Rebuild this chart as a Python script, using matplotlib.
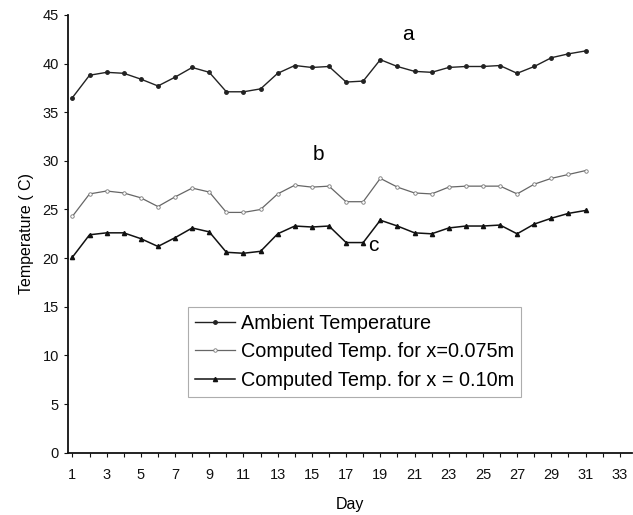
import numpy as np
import matplotlib.pyplot as plt

plt.rcParams['font.family'] = ['Liberation Sans', 'DejaVu Sans']

days = list(range(1, 32))

# a: ambient temperature
ambient = [36.5, 38.8, 39.1, 39.0, 38.4, 37.7, 38.6, 39.6, 39.1, 37.1, 37.1,
           37.4, 39.0, 39.8, 39.6, 39.7, 38.1, 38.2, 40.4, 39.7, 39.2, 39.1,
           39.6, 39.7, 39.7, 39.8, 39.0, 39.7, 40.6, 41.0, 41.3]

# b: computed temp for x = 0.075 m
temp_075 = [24.3, 26.6, 26.9, 26.7, 26.2, 25.3, 26.3, 27.2, 26.8, 24.7, 24.7,
            25.0, 26.6, 27.5, 27.3, 27.4, 25.8, 25.8, 28.2, 27.3, 26.7, 26.6,
            27.3, 27.4, 27.4, 27.4, 26.6, 27.6, 28.2, 28.6, 29.0]

# c: computed temp for x = 0.10 m
temp_010 = [20.1, 22.4, 22.6, 22.6, 22.0, 21.2, 22.1, 23.1, 22.7, 20.6, 20.5,
            20.7, 22.5, 23.3, 23.2, 23.3, 21.6, 21.6, 23.9, 23.3, 22.6, 22.5,
            23.1, 23.3, 23.3, 23.4, 22.5, 23.5, 24.1, 24.6, 24.9]

fig = plt.figure(figsize=(6.33, 5.15), dpi=100)
ax = fig.add_axes([0.1074, 0.121, 0.8906, 0.850])

ax.plot(days, ambient, color='#222222', lw=1.0, marker='o', ms=2.5,
        label='Ambient Temperature')
ax.plot(days, temp_075, color='#666666', lw=0.9, marker='o', ms=2.5,
        mfc='white', mec='#777777', mew=0.6,
        label='Computed Temp. for x=0.075m')
ax.plot(days, temp_010, color='#111111', lw=1.1, marker='^', ms=3,
        label='Computed Temp. for x = 0.10m')

ax.text(20.6, 43.0, 'a', fontsize=15, ha='center', va='center')
ax.text(15.4, 30.7, 'b', fontsize=15, ha='center', va='center')
ax.text(18.6, 21.3, 'c', fontsize=15, ha='center', va='center')

ax.set_xlim(0.74, 33.7)
ax.set_ylim(0, 45)
ax.set_xticks(range(1, 34))
ax.set_xticklabels([str(d) if d % 2 == 1 else '' for d in range(1, 34)])
ax.set_yticks(range(0, 46, 5))
ax.tick_params(axis='both', labelsize=10.5, length=3, width=0.8,
               direction='out', colors='#111111')
ax.tick_params(axis='x', pad=8)

for side in ['top', 'right']:
    ax.spines[side].set_visible(False)
for side in ['left', 'bottom']:
    ax.spines[side].set_linewidth(1.3)
    ax.spines[side].set_color('#111111')

ax.set_xlabel('Day', fontsize=11.5, labelpad=11)
ax.set_ylabel('Temperature ( C)', fontsize=11.5, labelpad=6)

leg = ax.legend(loc='upper left', bbox_to_anchor=(0.213, 0.333), fontsize=14.3,
                frameon=True, fancybox=False, edgecolor='#999999',
                handlelength=2.0, handletextpad=0.3, borderpad=0.35,
                labelspacing=0.48, borderaxespad=0)
leg.get_frame().set_linewidth(0.8)

fig.savefig('out.png', dpi=100)
